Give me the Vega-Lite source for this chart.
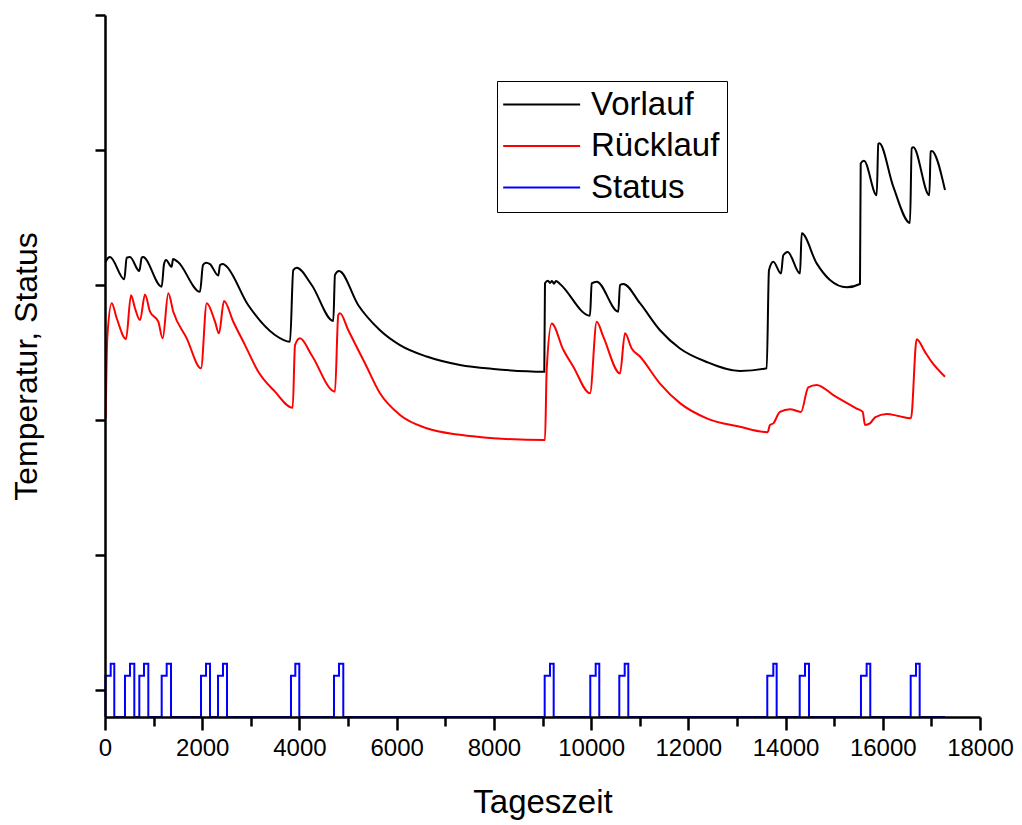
{
  "$schema": "https://vega.github.io/schema/vega-lite/v6.json",
  "width": 875,
  "height": 702,
  "autosize": {"type": "none"},
  "padding": {"left": 105, "top": 15, "right": 42, "bottom": 108},
  "background": "white",
  "config": {
    "view": {"stroke": null},
    "font": "Liberation Sans"
  },
  "datasets": {
    "temp": [
      {"s": "Vorlauf", "x": 10, "y": 63.4},
      {"s": "Vorlauf", "x": 62, "y": 64.0},
      {"s": "Vorlauf", "x": 103, "y": 64.15},
      {"s": "Vorlauf", "x": 397, "y": 60.84},
      {"s": "Vorlauf", "x": 446, "y": 64.04},
      {"s": "Vorlauf", "x": 514, "y": 64.15},
      {"s": "Vorlauf", "x": 706, "y": 62.07},
      {"s": "Vorlauf", "x": 755, "y": 64.04},
      {"s": "Vorlauf", "x": 782, "y": 64.15},
      {"s": "Vorlauf", "x": 1166, "y": 59.75},
      {"s": "Vorlauf", "x": 1214, "y": 63.07},
      {"s": "Vorlauf", "x": 1255, "y": 63.7},
      {"s": "Vorlauf", "x": 1372, "y": 62.7},
      {"s": "Vorlauf", "x": 1399, "y": 63.85},
      {"s": "Vorlauf", "x": 1502, "y": 63.4},
      {"s": "Vorlauf", "x": 1954, "y": 59.0},
      {"s": "Vorlauf", "x": 2016, "y": 62.96},
      {"s": "Vorlauf", "x": 2078, "y": 63.3},
      {"s": "Vorlauf", "x": 2160, "y": 63.1},
      {"s": "Vorlauf", "x": 2331, "y": 61.4},
      {"s": "Vorlauf", "x": 2366, "y": 62.96},
      {"s": "Vorlauf", "x": 2427, "y": 63.1},
      {"s": "Vorlauf", "x": 2469, "y": 62.96},
      {"s": "Vorlauf", "x": 2948, "y": 57.0},
      {"s": "Vorlauf", "x": 3497, "y": 52.6},
      {"s": "Vorlauf", "x": 3806, "y": 51.6},
      {"s": "Vorlauf", "x": 3873, "y": 62.2},
      {"s": "Vorlauf", "x": 3943, "y": 62.56},
      {"s": "Vorlauf", "x": 4252, "y": 60.0},
      {"s": "Vorlauf", "x": 4696, "y": 54.67},
      {"s": "Vorlauf", "x": 4731, "y": 61.5},
      {"s": "Vorlauf", "x": 4814, "y": 62.07},
      {"s": "Vorlauf", "x": 5211, "y": 57.0},
      {"s": "Vorlauf", "x": 5657, "y": 53.3},
      {"s": "Vorlauf", "x": 6068, "y": 51.1},
      {"s": "Vorlauf", "x": 6618, "y": 49.4},
      {"s": "Vorlauf", "x": 7303, "y": 48.15},
      {"s": "Vorlauf", "x": 7988, "y": 47.56},
      {"s": "Vorlauf", "x": 9037, "y": 47.16},
      {"s": "Vorlauf", "x": 9051, "y": 60.25},
      {"s": "Vorlauf", "x": 9113, "y": 60.64},
      {"s": "Vorlauf", "x": 9154, "y": 60.3},
      {"s": "Vorlauf", "x": 9195, "y": 60.6},
      {"s": "Vorlauf", "x": 9236, "y": 60.2},
      {"s": "Vorlauf", "x": 9277, "y": 60.6},
      {"s": "Vorlauf", "x": 9360, "y": 60.15},
      {"s": "Vorlauf", "x": 9977, "y": 55.45},
      {"s": "Vorlauf", "x": 10012, "y": 60.25},
      {"s": "Vorlauf", "x": 10115, "y": 60.5},
      {"s": "Vorlauf", "x": 10559, "y": 56.04},
      {"s": "Vorlauf", "x": 10594, "y": 60.0},
      {"s": "Vorlauf", "x": 10662, "y": 60.15},
      {"s": "Vorlauf", "x": 11005, "y": 57.3},
      {"s": "Vorlauf", "x": 11417, "y": 53.3},
      {"s": "Vorlauf", "x": 11828, "y": 50.6},
      {"s": "Vorlauf", "x": 12378, "y": 48.6},
      {"s": "Vorlauf", "x": 13063, "y": 47.26},
      {"s": "Vorlauf", "x": 13612, "y": 47.66},
      {"s": "Vorlauf", "x": 13659, "y": 62.2},
      {"s": "Vorlauf", "x": 13748, "y": 63.45},
      {"s": "Vorlauf", "x": 13906, "y": 61.7},
      {"s": "Vorlauf", "x": 13953, "y": 64.4},
      {"s": "Vorlauf", "x": 14044, "y": 64.9},
      {"s": "Vorlauf", "x": 14297, "y": 61.7},
      {"s": "Vorlauf", "x": 14332, "y": 67.66},
      {"s": "Vorlauf", "x": 14640, "y": 63.2},
      {"s": "Vorlauf", "x": 14914, "y": 60.74},
      {"s": "Vorlauf", "x": 15257, "y": 59.66},
      {"s": "Vorlauf", "x": 15531, "y": 60.15},
      {"s": "Vorlauf", "x": 15546, "y": 78.0},
      {"s": "Vorlauf", "x": 15613, "y": 78.4},
      {"s": "Vorlauf", "x": 15875, "y": 73.3},
      {"s": "Vorlauf", "x": 15908, "y": 80.9},
      {"s": "Vorlauf", "x": 15928, "y": 81.0},
      {"s": "Vorlauf", "x": 16216, "y": 74.56},
      {"s": "Vorlauf", "x": 16560, "y": 69.2},
      {"s": "Vorlauf", "x": 16595, "y": 80.25},
      {"s": "Vorlauf", "x": 16628, "y": 80.4},
      {"s": "Vorlauf", "x": 16957, "y": 73.3},
      {"s": "Vorlauf", "x": 16986, "y": 79.75},
      {"s": "Vorlauf", "x": 17006, "y": 79.85},
      {"s": "Vorlauf", "x": 17280, "y": 74.07},
      {"s": "Rücklauf", "x": 14, "y": 40.25},
      {"s": "Rücklauf", "x": 47, "y": 52.15},
      {"s": "Rücklauf", "x": 138, "y": 57.3},
      {"s": "Rücklauf", "x": 241, "y": 55.07},
      {"s": "Rücklauf", "x": 432, "y": 52.0},
      {"s": "Rücklauf", "x": 535, "y": 58.5},
      {"s": "Rücklauf", "x": 617, "y": 56.55},
      {"s": "Rücklauf", "x": 720, "y": 54.8},
      {"s": "Rücklauf", "x": 823, "y": 58.6},
      {"s": "Rücklauf", "x": 926, "y": 56.04},
      {"s": "Rücklauf", "x": 1096, "y": 54.56},
      {"s": "Rücklauf", "x": 1187, "y": 52.1},
      {"s": "Rücklauf", "x": 1302, "y": 58.77},
      {"s": "Rücklauf", "x": 1405, "y": 56.04},
      {"s": "Rücklauf", "x": 1681, "y": 52.1},
      {"s": "Rücklauf", "x": 1975, "y": 47.66},
      {"s": "Rücklauf", "x": 2092, "y": 57.3},
      {"s": "Rücklauf", "x": 2263, "y": 54.56},
      {"s": "Rücklauf", "x": 2345, "y": 52.84},
      {"s": "Rücklauf", "x": 2448, "y": 57.63},
      {"s": "Rücklauf", "x": 2639, "y": 54.56},
      {"s": "Rücklauf", "x": 2880, "y": 51.1},
      {"s": "Rücklauf", "x": 3154, "y": 47.16},
      {"s": "Rücklauf", "x": 3497, "y": 44.2},
      {"s": "Rücklauf", "x": 3861, "y": 41.8},
      {"s": "Rücklauf", "x": 3909, "y": 51.1},
      {"s": "Rücklauf", "x": 4011, "y": 52.1},
      {"s": "Rücklauf", "x": 4252, "y": 49.6},
      {"s": "Rücklauf", "x": 4731, "y": 44.2},
      {"s": "Rücklauf", "x": 4799, "y": 55.55},
      {"s": "Rücklauf", "x": 4834, "y": 55.8},
      {"s": "Rücklauf", "x": 5005, "y": 53.3},
      {"s": "Rücklauf", "x": 5348, "y": 48.4},
      {"s": "Rücklauf", "x": 5657, "y": 43.95},
      {"s": "Rücklauf", "x": 6068, "y": 40.74},
      {"s": "Rücklauf", "x": 6618, "y": 38.77},
      {"s": "Rücklauf", "x": 7303, "y": 37.8},
      {"s": "Rücklauf", "x": 7988, "y": 37.3},
      {"s": "Rücklauf", "x": 9051, "y": 37.04},
      {"s": "Rücklauf", "x": 9086, "y": 47.4},
      {"s": "Rücklauf", "x": 9189, "y": 54.3},
      {"s": "Rücklauf", "x": 9428, "y": 50.4},
      {"s": "Rücklauf", "x": 9634, "y": 47.9},
      {"s": "Rücklauf", "x": 9977, "y": 43.95},
      {"s": "Rücklauf", "x": 10115, "y": 54.56},
      {"s": "Rücklauf", "x": 10251, "y": 52.34},
      {"s": "Rücklauf", "x": 10594, "y": 46.9},
      {"s": "Rücklauf", "x": 10697, "y": 52.84},
      {"s": "Rücklauf", "x": 10834, "y": 50.6},
      {"s": "Rücklauf", "x": 11005, "y": 49.4},
      {"s": "Rücklauf", "x": 11417, "y": 45.4},
      {"s": "Rücklauf", "x": 11828, "y": 42.5},
      {"s": "Rücklauf", "x": 12378, "y": 40.25},
      {"s": "Rücklauf", "x": 13063, "y": 39.0},
      {"s": "Rücklauf", "x": 13632, "y": 38.2},
      {"s": "Rücklauf", "x": 13679, "y": 39.26},
      {"s": "Rücklauf", "x": 13748, "y": 39.5},
      {"s": "Rücklauf", "x": 13885, "y": 41.2},
      {"s": "Rücklauf", "x": 14091, "y": 41.6},
      {"s": "Rücklauf", "x": 14317, "y": 41.2},
      {"s": "Rücklauf", "x": 14467, "y": 44.84},
      {"s": "Rücklauf", "x": 14640, "y": 45.2},
      {"s": "Rücklauf", "x": 14982, "y": 43.7},
      {"s": "Rücklauf", "x": 15463, "y": 41.7},
      {"s": "Rücklauf", "x": 15587, "y": 41.2},
      {"s": "Rücklauf", "x": 15634, "y": 39.26},
      {"s": "Rücklauf", "x": 15737, "y": 39.5},
      {"s": "Rücklauf", "x": 15840, "y": 40.4},
      {"s": "Rücklauf", "x": 16080, "y": 40.9},
      {"s": "Rücklauf", "x": 16319, "y": 40.6},
      {"s": "Rücklauf", "x": 16580, "y": 40.25},
      {"s": "Rücklauf", "x": 16697, "y": 51.96},
      {"s": "Rücklauf", "x": 16868, "y": 50.1},
      {"s": "Rücklauf", "x": 17006, "y": 48.6},
      {"s": "Rücklauf", "x": 17280, "y": 46.4}
    ],
    "status": [
      {"s": "Status", "x": 0, "y": -4},
      {"s": "Status", "x": 10, "y": 2.1},
      {"s": "Status", "x": 117, "y": 3.9},
      {"s": "Status", "x": 191, "y": -4},
      {"s": "Status", "x": 411, "y": 2.1},
      {"s": "Status", "x": 514, "y": 3.9},
      {"s": "Status", "x": 603, "y": -4},
      {"s": "Status", "x": 706, "y": 2.1},
      {"s": "Status", "x": 802, "y": 3.9},
      {"s": "Status", "x": 891, "y": -4},
      {"s": "Status", "x": 1166, "y": 2.1},
      {"s": "Status", "x": 1269, "y": 3.9},
      {"s": "Status", "x": 1358, "y": -4},
      {"s": "Status", "x": 1975, "y": 2.1},
      {"s": "Status", "x": 2078, "y": 3.9},
      {"s": "Status", "x": 2160, "y": -4},
      {"s": "Status", "x": 2325, "y": 2.1},
      {"s": "Status", "x": 2427, "y": 3.9},
      {"s": "Status", "x": 2510, "y": -4},
      {"s": "Status", "x": 3826, "y": 2.1},
      {"s": "Status", "x": 3915, "y": 3.9},
      {"s": "Status", "x": 3997, "y": -4},
      {"s": "Status", "x": 4711, "y": 2.1},
      {"s": "Status", "x": 4814, "y": 3.9},
      {"s": "Status", "x": 4902, "y": -4},
      {"s": "Status", "x": 9045, "y": 2.1},
      {"s": "Status", "x": 9154, "y": 3.9},
      {"s": "Status", "x": 9230, "y": -4},
      {"s": "Status", "x": 9983, "y": 2.1},
      {"s": "Status", "x": 10094, "y": 3.9},
      {"s": "Status", "x": 10168, "y": -4},
      {"s": "Status", "x": 10580, "y": 2.1},
      {"s": "Status", "x": 10691, "y": 3.9},
      {"s": "Status", "x": 10765, "y": -4},
      {"s": "Status", "x": 13624, "y": 2.1},
      {"s": "Status", "x": 13748, "y": 3.9},
      {"s": "Status", "x": 13817, "y": -4},
      {"s": "Status", "x": 14291, "y": 2.1},
      {"s": "Status", "x": 14400, "y": 3.9},
      {"s": "Status", "x": 14482, "y": -4},
      {"s": "Status", "x": 15551, "y": 2.1},
      {"s": "Status", "x": 15668, "y": 3.9},
      {"s": "Status", "x": 15743, "y": -4},
      {"s": "Status", "x": 16574, "y": 2.1},
      {"s": "Status", "x": 16683, "y": 3.9},
      {"s": "Status", "x": 16759, "y": -4},
      {"s": "Status", "x": 17280, "y": -4}
    ]
  },
  "encoding": {
    "x": {
      "field": "x", "type": "quantitative",
      "scale": {"domain": [0, 18000], "nice": false, "zero": false},
      "axis": {
        "zindex": 1,
        "values": [0,1000,2000,3000,4000,5000,6000,7000,8000,9000,10000,11000,12000,13000,14000,15000,16000,17000,18000],
        "format": "d",
        "labelExpr": "datum.value % 2000 === 0 ? datum.label : ''",
        "tickSize": {"condition": {"test": "datum.value % 2000 === 0", "value": 13}, "value": 9},
        "tickWidth": 2.5, "tickColor": "black",
        "domainWidth": 2.5, "domainColor": "black",
        "labelFontSize": 24, "labelFont": "Liberation Sans", "labelColor": "black",
        "labelPadding": 6, "labelFlush": false, "labelOverlap": false,
        "grid": false,
        "title": "Tageszeit", "titleFontSize": 33, "titleFont": "Liberation Sans",
        "titleFontWeight": "normal", "titleColor": "black", "titlePadding": 26
      }
    },
    "y": {
      "field": "y", "type": "quantitative",
      "scale": {"domain": [-4, 100], "nice": false, "zero": false},
      "axis": {
        "zindex": 1,
        "values": [0, 20, 40, 60, 80, 100],
        "labels": false,
        "tickSize": 10, "tickWidth": 2.5, "tickColor": "black",
        "domainWidth": 2.5, "domainColor": "black",
        "grid": false,
        "title": "Temperatur, Status", "titleFontSize": 32, "titleFont": "Liberation Sans",
        "titleFontWeight": "normal", "titleColor": "black", "titlePadding": 50
      }
    },
    "color": {
      "field": "s", "type": "nominal",
      "scale": {"domain": ["Vorlauf", "Rücklauf", "Status"], "range": ["black", "#ff0000", "#0000ff"]},
      "legend": {
        "orient": "none", "legendX": 392, "legendY": 66,
        "title": null,
        "symbolType": "M-1.8,0H6.2", "symbolSize": 370, "symbolStrokeWidth": 2,
        "labelFontSize": 33, "labelFont": "Liberation Sans", "labelColor": "black",
        "labelOffset": 54, "rowPadding": 7.5,
        "strokeColor": "black", "padding": 7
      }
    }
  },
  "layer": [
    {
      "data": {"name": "temp"},
      "mark": {"type": "line", "strokeWidth": 2, "interpolate": "monotone"}
    },
    {
      "data": {"name": "status"},
      "mark": {"type": "line", "strokeWidth": 2, "interpolate": "step-after"}
    }
  ]
}
